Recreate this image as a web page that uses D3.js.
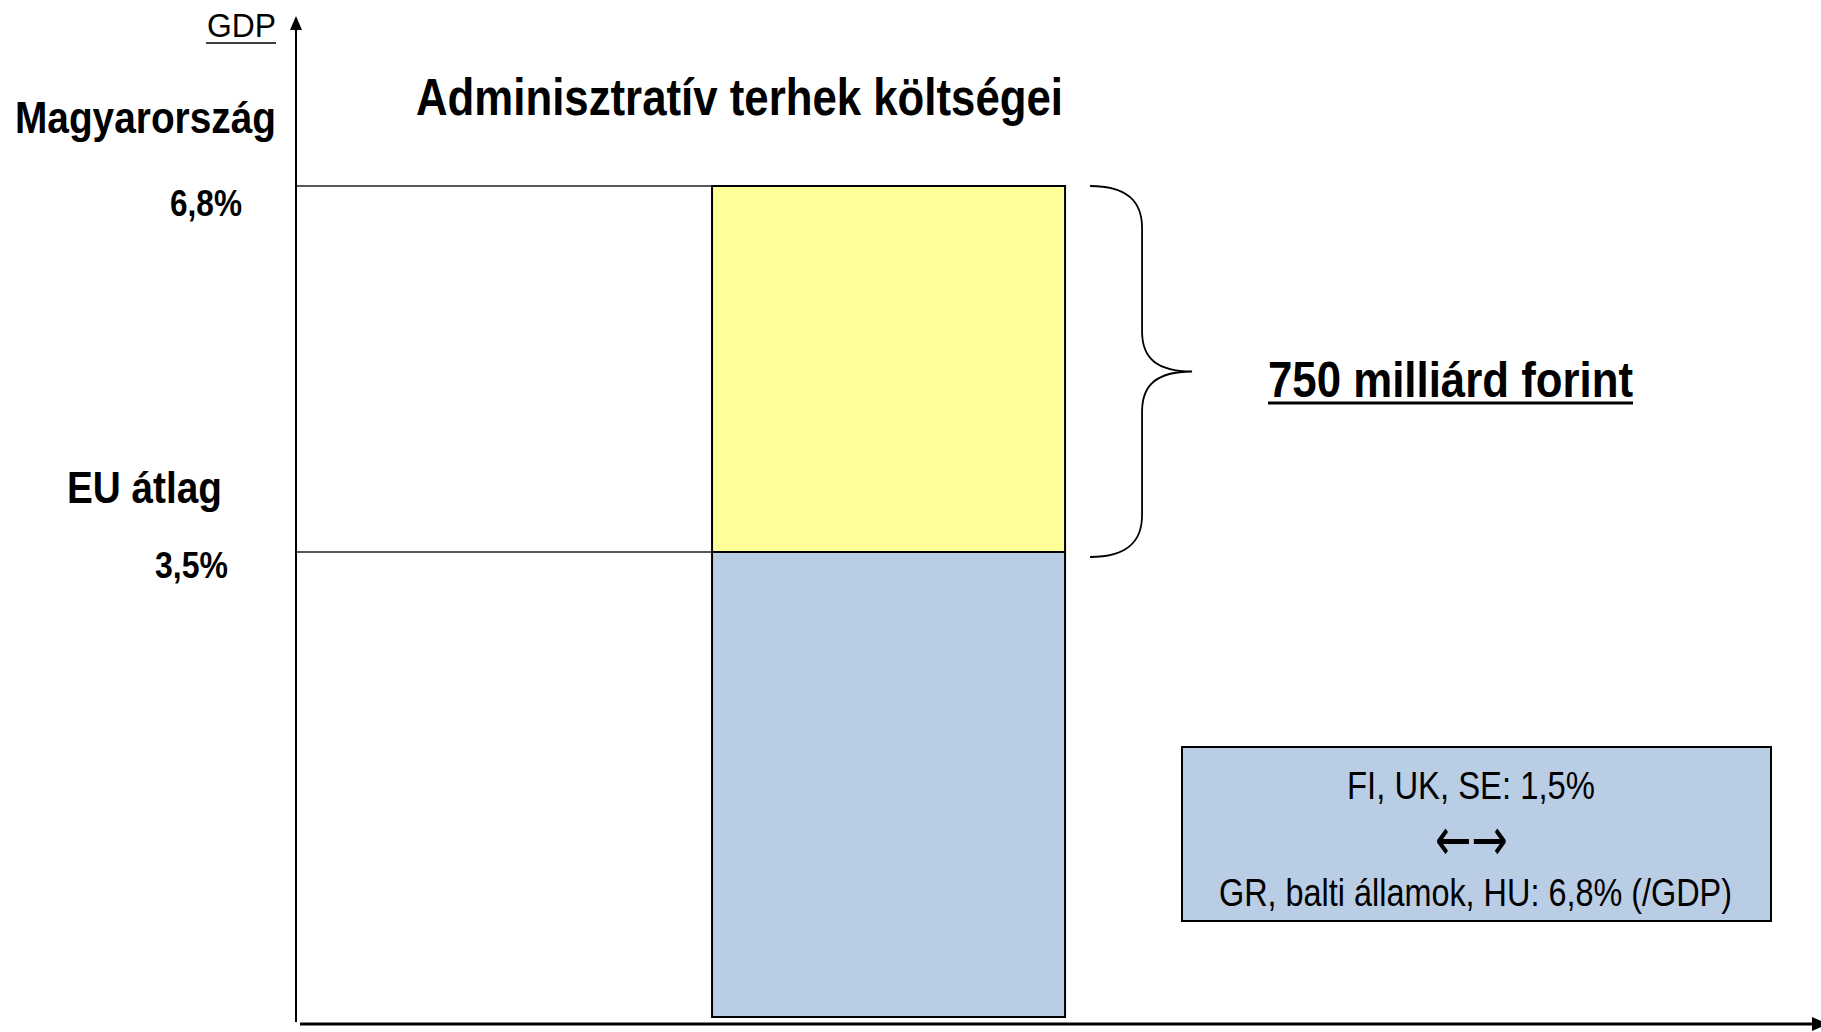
<!DOCTYPE html>
<html>
<head>
<meta charset="utf-8">
<script src="https://cdn.jsdelivr.net/npm/d3@7"></script>
<style>
  body { margin: 0; background: #fff; }
  text { font-family: "Liberation Sans Narrow", "Liberation Sans", Arial, sans-serif; }
</style>
</head>
<body>
<script>
var w = 1821;
var h = 1032;

// data
var levelNames = ['Magyarország', 'EU átlag'];
var levelValues = [6.8, 3.5];
var levelLabels = ['6,8%', '3,5%'];
var categories = ['Adminisztratív terhek'];
var segmentKeys = ['euAtlag', 'tobblet'];
var segmentColors = ['#B9CDE5', '#FFFF99'];
var titleText = 'Adminisztratív terhek költségei';
var axisLabel = 'GDP';
var braceLabel = '750 milliárd forint';
var boxLines = ['FI, UK, SE: 1,5%', '←→', 'GR, balti államok, HU: 6,8% (/GDP)'];

var axisX = 296, axisY = 1024;

var svg = d3.select('body')
   .append('svg')
   .attr('width', w)
   .attr('height', h);

// schematic (piecewise) value scale, as in the original slide
var y = d3.scaleLinear()
   .domain([0, levelValues[1], levelValues[0]])
   .range([1017, 552, 186]);

var x = d3.scaleBand()
   .domain(categories)
   .range([axisX, w])
   .paddingOuter(1.66)
   .align(0.355);

var stackData = [{
   cat: categories[0],
   euAtlag: levelValues[1],
   tobblet: levelValues[0] - levelValues[1]
}];
var series = d3.stack().keys(segmentKeys)(stackData);

// reference lines from the axis to the bar
svg.selectAll('line.level')
   .data(levelValues)
   .enter()
   .append('line')
   .attr('class', 'level')
   .attr('x1', axisX)
   .attr('x2', x(categories[0]) + x.bandwidth())
   .attr('y1', function(d) { return y(d); })
   .attr('y2', function(d) { return y(d); })
   .attr('stroke', '#222')
   .attr('stroke-width', 1.6);

// stacked bar
svg.selectAll('g.seg')
   .data(series)
   .enter()
   .append('g')
   .attr('class', 'seg')
   .attr('fill', function(d, i) { return segmentColors[i]; })
   .selectAll('rect')
   .data(function(d) { return d; })
   .enter()
   .append('rect')
   .attr('x', function(d) { return x(d.data.cat); })
   .attr('y', function(d) { return y(d[1]); })
   .attr('width', x.bandwidth())
   .attr('height', function(d) { return y(d[0]) - y(d[1]); })
   .attr('stroke', '#000')
   .attr('stroke-width', 2);

// axes with arrow heads
svg.append('line')
   .attr('x1', axisX).attr('y1', axisY - 2)
   .attr('x2', axisX).attr('y2', 28)
   .attr('stroke', '#000').attr('stroke-width', 2);
svg.append('path')
   .attr('d', 'M' + (axisX - 6) + ',30 L' + axisX + ',16 L' + (axisX + 6) + ',30 Z')
   .attr('fill', '#000');
svg.append('line')
   .attr('x1', axisX + 4).attr('y1', axisY)
   .attr('x2', 1814).attr('y2', axisY)
   .attr('stroke', '#000').attr('stroke-width', 3);
svg.append('path')
   .attr('d', 'M1812,' + (axisY - 7) + ' L1828,' + axisY + ' L1812,' + (axisY + 7) + ' Z')
   .attr('fill', '#000');

// helper for condensed text
function label(txt, x0, base, width, size, weight) {
   return svg.append('text')
      .text(txt)
      .attr('x', x0)
      .attr('y', base)
      .attr('font-size', size + 'px')
      .attr('font-weight', weight)
      .attr('textLength', width)
      .attr('lengthAdjust', 'spacingAndGlyphs')
      .attr('fill', '#000');
}

// GDP axis label, underlined
label(axisLabel, 207, 37, 69, 34, 'normal');
svg.append('line')
   .attr('x1', 206).attr('x2', 276)
   .attr('y1', 43).attr('y2', 43)
   .attr('stroke', '#000').attr('stroke-width', 1.5);

// title
label(titleText, 416, 115, 647, 52, 'bold');

// level names and values on the left
var nameBox = [[15, 261, -53], [67, 155, -49]];
var valBox = [[170, 72, 30], [155, 73, 26]];
levelNames.forEach(function(n, i) {
   label(n, nameBox[i][0], y(levelValues[i]) + nameBox[i][2], nameBox[i][1], 44, 'bold');
   label(levelLabels[i], valBox[i][0], y(levelValues[i]) + valBox[i][2], valBox[i][1], 37, 'bold');
});

// curly brace spanning the difference
var bx = x(categories[0]) + x.bandwidth() + 25;
var bTop = y(levelValues[0]), bBot = y(levelValues[1]) + 5, bMid = (bTop + bBot) / 2;
var vx = bx + 52, tx = bx + 102;
svg.append('path')
   .attr('d', 'M' + bx + ',' + bTop +
      ' C' + (bx + 38) + ',' + bTop + ' ' + vx + ',' + (bTop + 16) + ' ' + vx + ',' + (bTop + 42) +
      ' L' + vx + ',' + (bMid - 40) +
      ' C' + vx + ',' + (bMid - 14) + ' ' + (vx + 14) + ',' + bMid + ' ' + tx + ',' + bMid +
      ' C' + (vx + 14) + ',' + bMid + ' ' + vx + ',' + (bMid + 14) + ' ' + vx + ',' + (bMid + 40) +
      ' L' + vx + ',' + (bBot - 42) +
      ' C' + vx + ',' + (bBot - 16) + ' ' + (bx + 38) + ',' + bBot + ' ' + bx + ',' + bBot)
   .attr('fill', 'none')
   .attr('stroke', '#000')
   .attr('stroke-width', 1.8);

label(braceLabel, 1268, 397, 365, 50, 'bold');
svg.append('line')
   .attr('x1', 1268).attr('x2', 1633)
   .attr('y1', 403).attr('y2', 403)
   .attr('stroke', '#000').attr('stroke-width', 3);

// note box
svg.append('rect')
   .attr('x', 1182).attr('y', 747)
   .attr('width', 589).attr('height', 174)
   .attr('fill', '#B9CDE5')
   .attr('stroke', '#000')
   .attr('stroke-width', 2);
var lineBox = [[1347, 799, 248], [1435, 860, 73], [1219, 906, 513]];
boxLines.forEach(function(t, i) {
   var t0 = label(t, lineBox[i][0], lineBox[i][1], lineBox[i][2], i === 1 ? 60 : 38, 'normal');
   if (i === 1) t0.style('font-family', '"DejaVu Sans", sans-serif');
});
</script>
</body>
</html>
